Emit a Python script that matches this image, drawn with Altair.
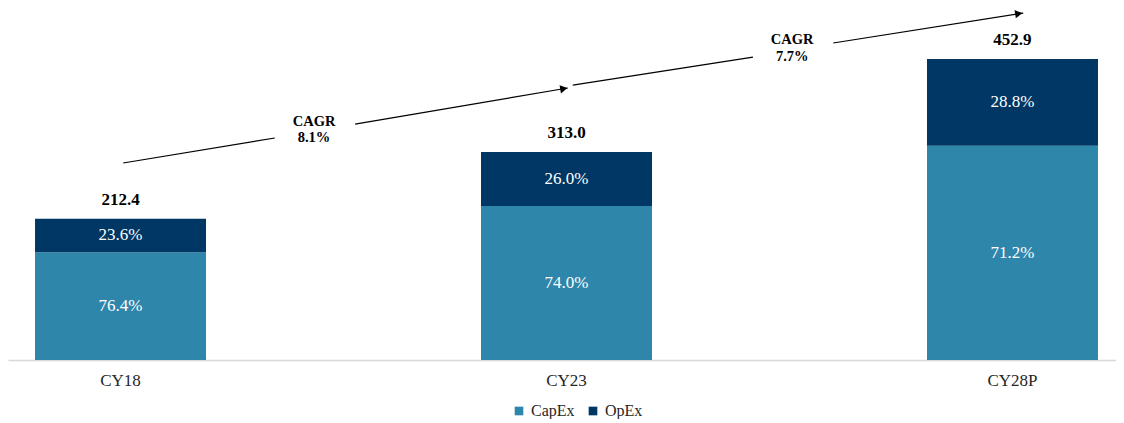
import altair as alt
import pandas as pd

# ---- data ----
categories = ["CY18", "CY23", "CY28P"]
totals = [212.4, 313.0, 452.9]
capex_pct = [76.4, 74.0, 71.2]
opex_pct = [23.6, 26.0, 28.8]
series = ["CapEx", "OpEx"]
colors = ["#2E86AB", "#003764"]

# CAGR annotation (x in category-index units, y in value units)
seg_x = [0.006, 0.526, 1.014, 1.598]
seg_x2 = [0.346, 1.003, 1.418, 2.024]
seg_y = [296.4, 355.0, 413.7, 476.9]
seg_y2 = [334.0, 409.2, 455.8, 522.0]
head_x = [0.994, 2.014]
head_y = [408.2, 521.1]
head_angle = [350.4, 350.9]
cagr_values = ["8.1%", "7.7%"]
cagr_x = [0.434, 1.506]
cagr_title_y = [358.1, 481.4]
cagr_value_y = [334.0, 455.8]

FONT = "Liberation Serif"
YMAX = 529.6
W, H = 1108, 352

rows = []
for c, t, cp, op in zip(categories, totals, capex_pct, opex_pct):
    cap = t * cp / 100
    opx = t * op / 100
    rows.append(dict(cat=c, series="CapEx", start=0, end=cap, mid=cap / 2, label=f"{cp:.1f}%", total=t))
    rows.append(dict(cat=c, series="OpEx", start=cap, end=t, mid=cap + opx / 2, label=f"{op:.1f}%", total=t))
bars_df = pd.DataFrame(rows)
tot_df = pd.DataFrame(dict(cat=categories, total=totals, label=[f"{t:.1f}" for t in totals]))

seg_df = pd.DataFrame(dict(x=seg_x, x2=seg_x2, y=seg_y, y2=seg_y2))
head_df = pd.DataFrame(dict(x=head_x, y=head_y, ang=head_angle))
cagr_df = pd.DataFrame(dict(
    x=cagr_x * 2,
    y=cagr_title_y + cagr_value_y,
    text=["CAGR"] * len(cagr_values) + cagr_values,
))

yscale = alt.Scale(domain=[0, YMAX], nice=False, zero=True)
xband = alt.X(
    "cat:N", sort=categories,
    scale=alt.Scale(paddingInner=0.6166, paddingOuter=0.0505, align=0.6),
    axis=alt.Axis(title=None, labelAngle=0, ticks=False, domainColor="#D9D9D9",
                  domainWidth=1.5, labelFont=FONT, labelFontSize=17,
                  labelColor="#262626", labelPadding=12, grid=False),
)

bars = alt.Chart(bars_df).mark_bar().encode(
    x=xband,
    y=alt.Y("start:Q", scale=yscale, axis=None),
    y2="end:Q",
    color=alt.Color("series:N", sort=series,
                    scale=alt.Scale(domain=series, range=colors),
                    legend=alt.Legend(orient="none", legendX=503, legendY=395,
                                      direction="horizontal", title=None,
                                      symbolType="square", symbolSize=75,
                                      symbolStrokeWidth=0, labelFont=FONT,
                                      labelFontSize=16, labelColor="#262626",
                                      columnPadding=10, labelOffset=4, padding=0)),
)

pct = alt.Chart(bars_df).mark_text(color="white", font=FONT, fontSize=17, baseline="middle").encode(
    x=alt.X("cat:N", sort=categories),
    y=alt.Y("mid:Q", scale=yscale),
    text="label:N",
)

tot = alt.Chart(tot_df).mark_text(font=FONT, fontSize=17, fontWeight="bold", baseline="middle",
                                  dy=-19, color="black").encode(
    x=alt.X("cat:N", sort=categories),
    y=alt.Y("total:Q", scale=yscale),
    text="label:N",
)

xlin = alt.Scale(domain=[-0.2522, 2.2320], nice=False, zero=False)
segs = alt.Chart(seg_df).mark_rule(color="black", strokeWidth=1.2).encode(
    x=alt.X("x:Q", scale=xlin, axis=None),
    x2="x2:Q",
    y=alt.Y("y:Q", scale=yscale),
    y2="y2:Q",
)
heads = alt.Chart(head_df).mark_point(shape="triangle-right", filled=True, size=70,
                                      color="black", opacity=1).encode(
    x=alt.X("x:Q", scale=xlin, axis=None),
    y=alt.Y("y:Q", scale=yscale),
    angle=alt.Angle("ang:Q", scale=None),
)
cagr = alt.Chart(cagr_df).mark_text(font=FONT, fontSize=14.5, fontWeight="bold",
                                    baseline="middle", color="black").encode(
    x=alt.X("x:Q", scale=xlin, axis=None),
    y=alt.Y("y:Q", scale=yscale),
    text="text:N",
)

main = alt.layer(bars, pct, tot).resolve_scale(x="shared")
ann = alt.layer(segs, heads, cagr)
chart = alt.layer(main, ann).resolve_scale(x="independent").properties(
    width=W, height=H, padding=0,
).configure_view(stroke=None).configure_axis(grid=False)

chart.save("out.html", embed_options={"renderer": "svg", "actions": False})
